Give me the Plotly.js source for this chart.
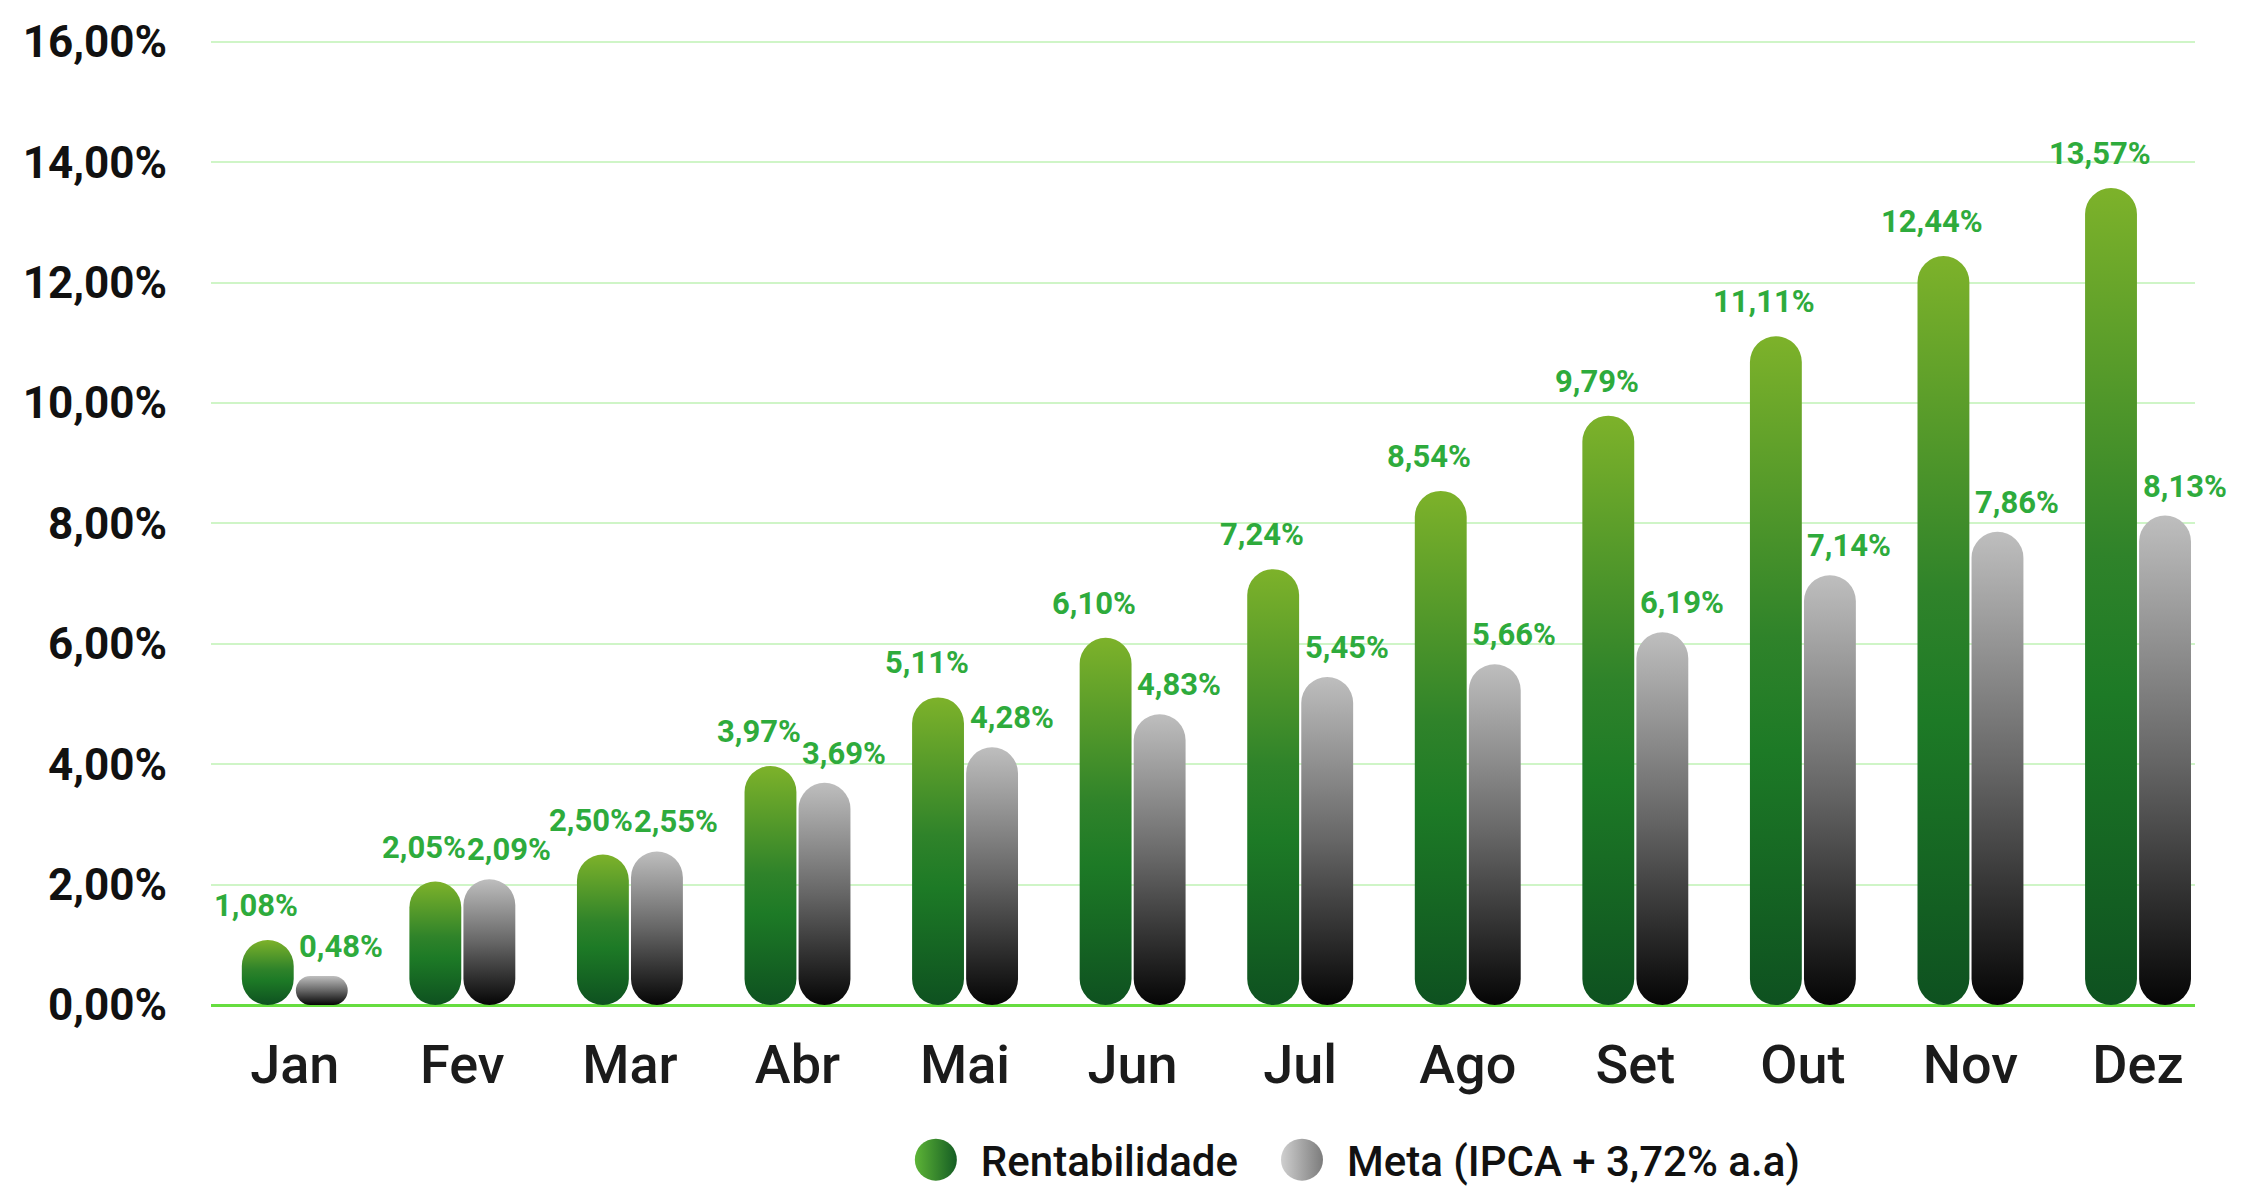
<!DOCTYPE html>
<html>
<head>
<meta charset="utf-8">
<script src="https://cdn.plot.ly/plotly-3.0.1.min.js"></script>
<style>
  html, body { margin: 0; padding: 0; background: #ffffff; }
  #chart { width: 2249px; height: 1186px; }
</style>
</head>
<body>
<div id="chart"></div>
<script>
// data (percent, accumulated)
const months = ['Jan', 'Fev', 'Mar', 'Abr', 'Mai', 'Jun', 'Jul', 'Ago', 'Set', 'Out', 'Nov', 'Dez'];
const rentabilidade = [1.08, 2.05, 2.50, 3.97, 5.11, 6.10, 7.24, 8.54, 9.79, 11.11, 12.44, 13.57];
const meta = [0.48, 2.09, 2.55, 3.69, 4.28, 4.83, 5.45, 5.66, 6.19, 7.14, 7.86, 8.13];
const seriesNames = ['Rentabilidade', 'Meta (IPCA + 3,72% a.a)'];

const FONT = "Roboto, 'DejaVu Sans Condensed', sans-serif";
const LABEL_GREEN = '#2eab3c';

// half of a group slot in px: bar centres sit this far from the category centre
const BAR_OFFSET = 27.5;
// extra room between the two legend entries
const LEGEND_ITEM_GAP = 34;

function fmtPct(v) {
    return v.toFixed(2).replace('.', ',') + '%';
}

const traces = [
    {
        type: 'bar', x: months, y: rentabilidade, name: seriesNames[0],
        marker: { color: '#1e7b27' }, hoverinfo: 'skip'
    },
    {
        type: 'bar', x: months, y: meta, name: seriesNames[1],
        marker: { color: '#777777' }, hoverinfo: 'skip'
    }
];

const labelFont = { family: FONT, size: 31, color: LABEL_GREEN, weight: 'bold' };
const annotations = [];
months.forEach((m, i) => {
    annotations.push({
        x: m, y: rentabilidade[i], xref: 'x', yref: 'y',
        text: fmtPct(rentabilidade[i]), showarrow: false,
        yanchor: 'bottom', xshift: -BAR_OFFSET - 11, yshift: 14,
        font: labelFont
    });
    annotations.push({
        x: m, y: meta[i], xref: 'x', yref: 'y',
        text: fmtPct(meta[i]), showarrow: false,
        yanchor: 'bottom', xshift: BAR_OFFSET + 19, yshift: 9,
        font: labelFont
    });
});

const layout = {
    width: 2249,
    height: 1186,
    paper_bgcolor: '#ffffff',
    plot_bgcolor: '#ffffff',
    margin: { l: 211, r: 54, t: 40, b: 181 },
    separators: ',.',
    barmode: 'group',
    bargap: 0.355,
    bargroupgap: 0.04,
    font: { family: FONT },
    xaxis: {
        type: 'category',
        range: [-0.5, 11.34],
        showgrid: false,
        zeroline: false,
        showline: false,
        ticks: '',
        ticklabelstandoff: 23,
        tickfont: { family: FONT, size: 54, color: '#1b1b1b', weight: 500 }
    },
    yaxis: {
        range: [0, 16.03],
        dtick: 2,
        tickformat: '.2f',
        ticksuffix: '%',
        showgrid: true,
        gridcolor: '#cff5c7',
        gridwidth: 2,
        zeroline: true,
        zerolinecolor: '#66dd3f',
        zerolinewidth: 3,
        showline: false,
        ticks: '',
        ticklabelstandoff: 43,
        tickfont: { family: FONT, size: 44, color: '#111111', weight: 'bold' }
    },
    showlegend: true,
    legend: {
        orientation: 'h',
        xref: 'container', yref: 'container',
        x: 0.405, xanchor: 'left',
        y: 0.022, yanchor: 'middle',
        itemwidth: 60,
        font: { family: FONT, size: 42, color: '#111111', weight: 500 },
        bgcolor: 'rgba(0,0,0,0)'
    },
    annotations: annotations
};

function addGradient(defs, id, stops, horizontal) {
    const ns = 'http://www.w3.org/2000/svg';
    const g = document.createElementNS(ns, 'linearGradient');
    g.setAttribute('id', id);
    g.setAttribute('x1', '0'); g.setAttribute('y1', '0');
    g.setAttribute('x2', horizontal ? '1' : '0'); g.setAttribute('y2', horizontal ? '0' : '1');
    stops.forEach(([off, col]) => {
        const s = document.createElementNS(ns, 'stop');
        s.setAttribute('offset', off);
        s.setAttribute('stop-color', col);
        g.appendChild(s);
    });
    defs.appendChild(g);
}

function pillPath(x, y, w, h) {
    const r = Math.min(w / 2, h / 2);
    return `M${x},${y + r}A${r},${r} 0 0 1 ${x + r},${y}H${x + w - r}` +
        `A${r},${r} 0 0 1 ${x + w},${y + r}V${y + h - r}` +
        `A${r},${r} 0 0 1 ${x + w - r},${y + h}H${x + r}` +
        `A${r},${r} 0 0 1 ${x},${y + h - r}Z`;
}

function styleBars(gd) {
    const svg = gd.querySelector('svg.main-svg');
    const defs = svg.querySelector('defs');
    addGradient(defs, 'gradGreen', [[0, '#7db22a'], [0.45, '#2f832a'], [0.62, '#1d7a26'], [1, '#0e5120']], false);
    addGradient(defs, 'gradGray', [[0, '#bebebe'], [0.5, '#666666'], [1, '#050505']], false);
    addGradient(defs, 'legGreen', [[0, '#5db436'], [1, '#155d24']], true);
    addGradient(defs, 'legGray', [[0, '#cfcfcf'], [1, '#7c7c7c']], true);

    // rounded pill bars with vertical gradient
    const fills = ['url(#gradGreen)', 'url(#gradGray)'];
    gd.querySelectorAll('.barlayer .trace').forEach((tr, ti) => {
        tr.querySelectorAll('.point path').forEach((p) => {
            const b = p.getBBox();
            p.setAttribute('d', pillPath(b.x, b.y, b.width, b.height));
            p.style.fill = fills[ti];
            p.style.shapeRendering = 'geometricPrecision';
        });
    });

    // legend: round gradient markers, wider spacing
    const scroll = gd.querySelector('.legend .scrollbox');
    if (scroll) scroll.removeAttribute('clip-path');
    const legFills = ['url(#legGreen)', 'url(#legGray)'];
    gd.querySelectorAll('.legend .traces').forEach((item, ti) => {
        const txt = item.querySelector('text.legendtext');
        const tx = txt ? parseFloat(txt.getAttribute('x')) : 40;
        const cx = tx - 45;
        const r = 21;
        item.querySelectorAll('.legendpoints path').forEach((p) => {
            p.removeAttribute('transform');
            p.setAttribute('d', `M${cx - r},0A${r},${r} 0 1 1 ${cx + r},0A${r},${r} 0 1 1 ${cx - r},0Z`);
            p.style.fill = legFills[ti];
            p.style.stroke = 'none';
        });
        if (ti > 0) {
            const m = /translate\(([-\d.]+)[ ,]+([-\d.]+)\)/.exec(item.getAttribute('transform') || '');
            if (m) {
                const nx = parseFloat(m[1]) + LEGEND_ITEM_GAP * ti;
                item.setAttribute('transform', `translate(${nx},${m[2]})`);
            }
        }
    });
}

Plotly.newPlot('chart', traces, layout, { displayModeBar: false, staticPlot: true })
    .then((gd) => styleBars(gd));
</script>
</body>
</html>
